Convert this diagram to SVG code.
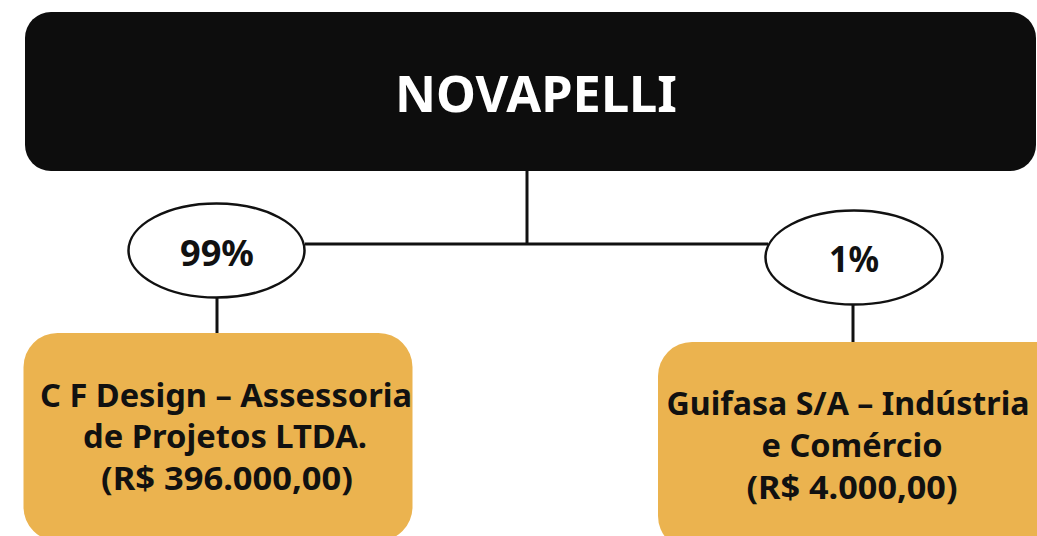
<svg xmlns="http://www.w3.org/2000/svg" width="1037" height="536" viewBox="0 0 1037 536">
<style>
.t{font-family:"Noto Sans","Open Sans","DejaVu Sans",sans-serif;font-weight:bold;text-anchor:middle;fill:#111}
.b{font-size:32px}
.p{font-size:35px}
.box{fill:#EBB34F}
.ell{fill:#fff;stroke:#111;stroke-width:2.5}
.ln{stroke:#111;stroke-width:3;fill:none}
</style>
<rect width="1037" height="536" fill="#fff"/>
<g id="connectors">
<line class="ln" x1="527" y1="171" x2="527" y2="244"/>
<line class="ln" x1="305" y1="244" x2="768" y2="244"/>
<line class="ln" x1="217" y1="297" x2="217" y2="335"/>
<line class="ln" x1="853" y1="304" x2="853" y2="343"/>
</g>
<g id="novapelli">
<rect x="25" y="12" width="1011" height="159" rx="26" fill="#0d0d0d"/>
<text class="t" x="536" y="112" font-size="50" textLength="282" lengthAdjust="spacingAndGlyphs" style="fill:#fff">NOVAPELLI</text>
</g>
<g id="pct99">
<ellipse class="ell" cx="216.5" cy="250.5" rx="88" ry="47"/>
<text class="t p" x="217" y="266" textLength="74" lengthAdjust="spacingAndGlyphs">99%</text>
</g>
<g id="pct1">
<ellipse class="ell" cx="854" cy="257.5" rx="88.5" ry="47"/>
<text class="t p" x="854" y="272" textLength="50" lengthAdjust="spacingAndGlyphs">1%</text>
</g>
<g id="cfdesign">
<rect class="box" x="23.5" y="333" width="389" height="208" rx="34"/>
<text class="t b" x="226" y="407" textLength="372" lengthAdjust="spacingAndGlyphs">C F Design – Assessoria</text>
<text class="t b" x="225" y="448" textLength="284" lengthAdjust="spacingAndGlyphs">de Projetos LTDA.</text>
<text class="t b" x="227" y="490" textLength="252" lengthAdjust="spacingAndGlyphs">(R$ 396.000,00)</text>
</g>
<g id="guifasa">
<rect class="box" x="658" y="342" width="420" height="208" rx="34"/>
<text class="t b" x="848" y="415" textLength="363" lengthAdjust="spacingAndGlyphs">Guifasa S/A – Indústria</text>
<text class="t b" x="852" y="457" textLength="181" lengthAdjust="spacingAndGlyphs">e Comércio</text>
<text class="t b" x="852" y="499" textLength="211" lengthAdjust="spacingAndGlyphs">(R$ 4.000,00)</text>
</g>
</svg>
